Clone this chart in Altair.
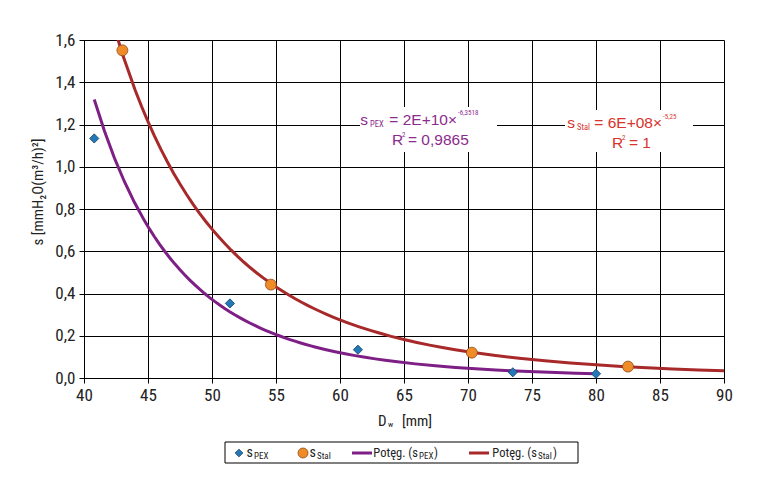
import altair as alt
import pandas as pd

# Internal pipe diameters D_w [mm] and resistance coefficients s
pex_d = [40.8, 51.4, 61.4, 73.5, 80.0]
pex_s = [1.134, 0.353, 0.134, 0.027, 0.020]
stal_d = [43.0, 54.6, 70.3, 82.5]
stal_s = [1.551, 0.442, 0.120, 0.054]

x_ticks = [40, 45, 50, 55, 60, 65, 70, 75, 80, 85, 90]
y_ticks = [0.0, 0.2, 0.4, 0.6, 0.8, 1.0, 1.2, 1.4, 1.6]

# Trend-line labels
pex_eq = ("2E+10", "-6,3518", "0,9865")
stal_eq = ("6E+08", "-5,25", "1")

W, H = 640, 338
FONT = "'Liberation Sans Narrow', 'Roboto Condensed', 'DejaVu Sans Condensed', 'Liberation Sans', sans-serif"
EQ_FONT = "'Liberation Sans', Arial, sans-serif"
BLUE, BLUE_EDGE = "#2379B7", "#1B3F63"
ORANGE, ORANGE_EDGE = "#F08C28", "#8A4A1C"
PURPLE, RED = "#7E1F86", "#A8292A"
PURPLE_TXT, RED_TXT = "#8C2B8E", "#D8332D"

pex = pd.DataFrame({"d": pex_d, "s": pex_s})
stal = pd.DataFrame({"d": stal_d, "s": stal_s})

x_scale = alt.Scale(domain=[40, 90], nice=False, zero=False)
y_scale = alt.Scale(domain=[0, 1.6], nice=False)
x_enc = alt.X("d:Q", scale=x_scale, axis=alt.Axis(values=x_ticks, title=None, labelFlush=False))
y_enc = alt.Y("s:Q", scale=y_scale, axis=alt.Axis(
    values=y_ticks, title=None, labelFlush=False,
    labelExpr="replace(format(datum.value, '.1f'), '.', ',')"))

# Power-law trend lines fitted to each series
trend_pex = alt.Chart(pex).transform_regression(
    "d", "s", method="pow", extent=[40.8, 80.0]
).mark_line(color=PURPLE, strokeWidth=3, clip=True).encode(x=x_enc, y=y_enc)

trend_stal = alt.Chart(stal).transform_regression(
    "d", "s", method="pow", extent=[40.0, 90.0]
).mark_line(color=RED, strokeWidth=3, clip=True).encode(x=x_enc, y=y_enc)

pts_pex = alt.Chart(pex).mark_point(
    shape="diamond", filled=True, size=85, color=BLUE, stroke=BLUE_EDGE,
    strokeWidth=0.8, opacity=1
).encode(x=x_enc, y=y_enc)

pts_stal = alt.Chart(stal).mark_point(
    shape="circle", filled=True, size=120, color=ORANGE, stroke=ORANGE_EDGE,
    strokeWidth=0.8, opacity=1
).encode(x=x_enc, y=y_enc)

anchor = pd.DataFrame({"k": [0]})


def txt(s, x, y, size, color="#222222", align="left", baseline="middle", angle=None, font=FONT):
    kw = dict(text=s, font=font, fontSize=size, color=color, align=align, baseline=baseline)
    if angle is not None:
        kw["angle"] = angle
    return alt.Chart(anchor).mark_text(**kw).encode(x=alt.value(x), y=alt.value(y))


def box(x1, x2, y1, y2, stroke=None):
    kw = dict(fill="white")
    if stroke:
        kw.update(stroke=stroke, strokeWidth=1)
    return alt.Chart(anchor).mark_rect(**kw).encode(
        x=alt.value(x1), x2=alt.value(x2), y=alt.value(y1), y2=alt.value(y2))


def sym(shape, x, y, size, fill, edge):
    return alt.Chart(anchor).mark_point(
        shape=shape, filled=True, size=size, color=fill, stroke=edge,
        strokeWidth=0.8, opacity=1
    ).encode(x=alt.value(x), y=alt.value(y))


def seg(x1, x2, y, color):
    return alt.Chart(anchor).mark_rule(color=color, strokeWidth=3).encode(
        x=alt.value(x1), x2=alt.value(x2), y=alt.value(y))


layers = [trend_pex, trend_stal, pts_pex, pts_stal]

# Equation boxes
EQ = 15.5
layers += [
    box(276, 413, 67, 112),
    txt("s", 284, 80, EQ, PURPLE_TXT, align="right", font=EQ_FONT),
    txt("PEX", 286, 84, 8.5, PURPLE_TXT),
    txt("= " + pex_eq[0] + "×", 373, 80, EQ, PURPLE_TXT, align="right", font=EQ_FONT),
    txt(pex_eq[1], 374, 73, 7, PURPLE_TXT),
    txt("R", 308, 100, EQ, PURPLE_TXT, font=EQ_FONT),
    txt("2", 318, 95, 7, PURPLE_TXT),
    txt("= " + pex_eq[2], 324, 100, EQ, PURPLE_TXT, font=EQ_FONT),
    box(481, 609, 70, 112),
    txt("s", 491, 83, EQ, RED_TXT, align="right", font=EQ_FONT),
    txt("Stal", 493, 87, 8.5, RED_TXT),
    txt("= " + stal_eq[0] + "×", 578, 83, EQ, RED_TXT, align="right", font=EQ_FONT),
    txt(stal_eq[1], 579, 77, 7, RED_TXT),
    txt("R", 528, 103, EQ, RED_TXT, font=EQ_FONT),
    txt("2", 538, 98, 7, RED_TXT),
    txt("= " + stal_eq[2], 545, 103, EQ, RED_TXT, font=EQ_FONT),
]

# Axis titles
layers += [
    txt("s  [mmH₂O(m³/h)²]", -46, 152, 15, angle=270, align="center"),
    txt("D", 294, 381, 15),
    txt("w", 304, 385, 8),
    txt("[mm]", 318, 381, 15),
]

# Legend
LY = 413
LF = 12.5
layers += [
    box(141, 494, 402, 423, stroke="black"),
    sym("diamond", 155, LY, 60, BLUE, BLUE_EDGE),
    txt("s", 169, LY, 14, align="right"),
    txt("PEX", 170, LY + 3, 9),
    sym("circle", 219, LY, 100, ORANGE, ORANGE_EDGE),
    txt("s", 232, LY, 14, align="right"),
    txt("Stal", 233, LY + 3, 9),
    seg(268, 288, LY, PURPLE),
    txt("Potęg. (s", 334, LY, LF, align="right"),
    txt("PEX", 335, LY + 3, 9),
    txt(")", 350, LY, LF),
    seg(385, 405, LY, RED),
    txt("Potęg. (s", 453, LY, LF, align="right"),
    txt("Stal", 454, LY + 3, 9),
    txt(")", 469, LY, LF),
]

chart = alt.layer(*layers).properties(
    width=W, height=H,
    padding={"left": 84, "top": 40, "right": 50, "bottom": 114},
    autosize=alt.AutoSizeParams(type="none"),
).configure_view(stroke=None).configure_axis(
    domainColor="black", tickColor="black", gridColor="black", gridOpacity=1,
    gridWidth=1, domainWidth=1, tickWidth=1, tickSize=5, grid=True,
    labelFont=FONT, labelFontSize=17, labelColor="#222222", labelPadding=4,
).configure_axisX(labelPadding=4)

chart.save("out.html", embed_options={"renderer": "svg", "actions": False})
